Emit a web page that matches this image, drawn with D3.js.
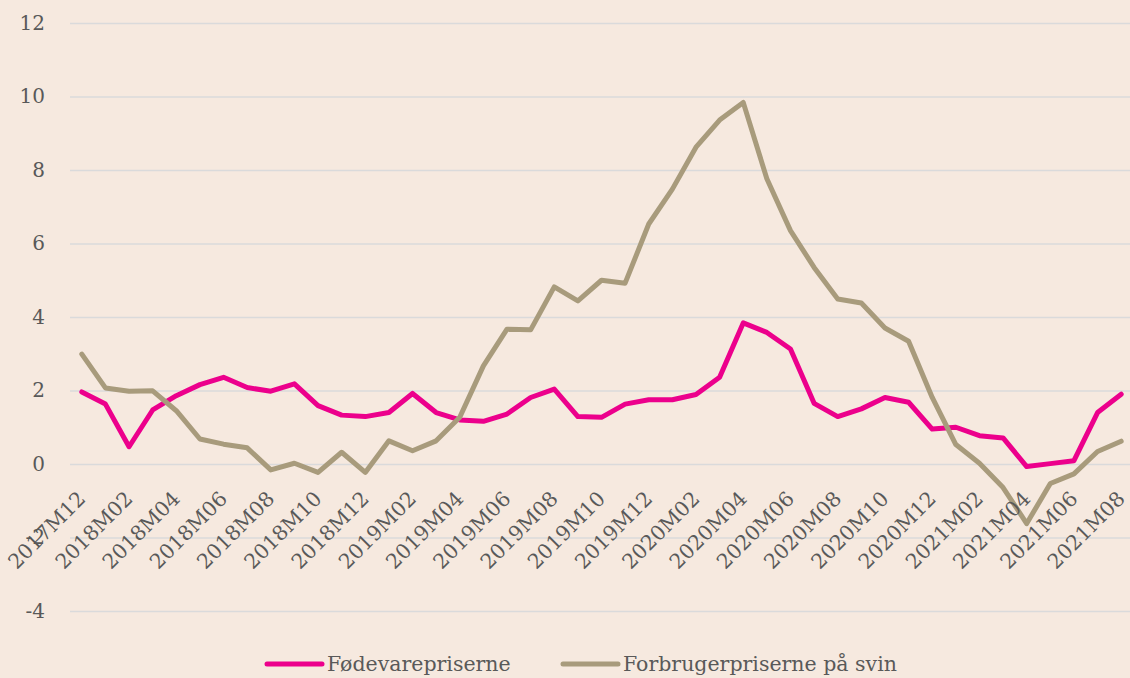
<!DOCTYPE html>
<html>
<head>
<meta charset="utf-8">
<script src="https://cdn.jsdelivr.net/npm/d3@7"></script>
<style>
  html, body { margin: 0; padding: 0; background: #F6E9DF; }
  svg { display: block; }
  text { font-family: "DejaVu Serif", serif; fill: #595959; }
</style>
</head>
<body>
<svg id="chart" width="1130" height="678"></svg>
<script>
const categories = [
  "2017M12",
  "2018M01","2018M02","2018M03","2018M04","2018M05","2018M06","2018M07","2018M08","2018M09","2018M10","2018M11","2018M12",
  "2019M01","2019M02","2019M03","2019M04","2019M05","2019M06","2019M07","2019M08","2019M09","2019M10","2019M11","2019M12",
  "2020M01","2020M02","2020M03","2020M04","2020M05","2020M06","2020M07","2020M08","2020M09","2020M10","2020M11","2020M12",
  "2021M01","2021M02","2021M03","2021M04","2021M05","2021M06","2021M07","2021M08"
];
const tickLabels = [
  "2017M12","2018M02","2018M04","2018M06","2018M08","2018M10","2018M12",
  "2019M02","2019M04","2019M06","2019M08","2019M10","2019M12",
  "2020M02","2020M04","2020M06","2020M08","2020M10","2020M12",
  "2021M02","2021M04","2021M06","2021M08"
];
const fodevarepriserne = [
  1.96, 1.63, 0.47, 1.47, 1.86, 2.16, 2.36, 2.08, 1.98, 2.18, 1.59, 1.33, 1.29,
  1.40, 1.92, 1.40, 1.20, 1.16, 1.36, 1.81, 2.04, 1.29, 1.27, 1.63, 1.75,
  1.75, 1.89, 2.36, 3.84, 3.58, 3.13, 1.65, 1.29, 1.50, 1.81, 1.68, 0.95,
  1.00, 0.77, 0.71, -0.07, 0.01, 0.09, 1.40, 1.90
];
const forbrugerpriserSvin = [
  2.99, 2.07, 1.98, 1.99, 1.45, 0.68, 0.54, 0.44, -0.16, 0.02, -0.23, 0.32, -0.23,
  0.63, 0.36, 0.63, 1.27, 2.67, 3.67, 3.65, 4.82, 4.44, 5.00, 4.92, 6.53,
  7.48, 8.62, 9.36, 9.84, 7.76, 6.35, 5.35, 4.49, 4.38, 3.70, 3.34, 1.81,
  0.53, 0.02, -0.64, -1.62, -0.53, -0.27, 0.34, 0.62
];
const yTicks = [-4, -2, 0, 2, 4, 6, 8, 10, 12];
const seriesNames = ["Fødevarepriserne", "Forbrugerpriserne på svin"];
const seriesColors = ["#EC008C", "#A89B7C"];

const svg = d3.select("#chart");
const W = 1130, H = 678;
svg.append("rect").attr("width", W).attr("height", H).attr("fill", "#F6E9DF");

const x = d3.scalePoint().domain(categories).range([70, 1133]).padding(0.5);
const y = d3.scaleLinear().domain([-4, 12]).range([611, 23]);

// gridlines + y labels
const yAxis = d3.axisLeft(y).tickValues(yTicks).tickSize(-(1130 - 70)).tickFormat(d => String(d));
const gy = svg.append("g").attr("transform", "translate(70,0)").call(yAxis);
gy.select(".domain").remove();
gy.selectAll(".tick line").attr("stroke", "#DADADB").attr("stroke-width", 1.5);
gy.selectAll(".tick text").attr("x", -25).attr("font-size", 20).attr("fill", "#595959")
  .style("font-family", "DejaVu Serif, serif");

// lines
const line = d3.line().x((d, i) => x(categories[i])).y(d => y(d));
[fodevarepriserne, forbrugerpriserSvin].forEach((s, k) => {
  svg.append("path").datum(s).attr("d", line)
    .attr("fill", "none").attr("stroke", seriesColors[k]).attr("stroke-width", 5)
    .attr("stroke-linejoin", "round").attr("stroke-linecap", "round");
});

// x axis labels (rotated)
const xAxis = d3.axisBottom(x).tickValues(tickLabels).tickSize(0);
const gx = svg.append("g").call(xAxis);
gx.select(".domain").remove();
gx.selectAll(".tick").attr("transform", d => `translate(${x(d) + 5},500)`);
gx.selectAll(".tick text")
  .attr("x", 0).attr("y", 0).attr("dy", 0)
  .attr("transform", "rotate(-45)")
  .attr("text-anchor", "end")
  .attr("font-size", 20.5).attr("fill", "#595959")
  .style("font-family", "DejaVu Serif, serif");

// legend
const legend = svg.append("g");
const legendX = [267, 563];
seriesNames.forEach((name, k) => {
  legend.append("line").attr("x1", legendX[k]).attr("x2", legendX[k] + 55)
    .attr("y1", 664).attr("y2", 664)
    .attr("stroke", seriesColors[k]).attr("stroke-width", 5).attr("stroke-linecap", "round");
  legend.append("text").attr("x", legendX[k] + 60).attr("y", 671)
    .attr("font-size", 20.5).text(name);
});
</script>
</body>
</html>
